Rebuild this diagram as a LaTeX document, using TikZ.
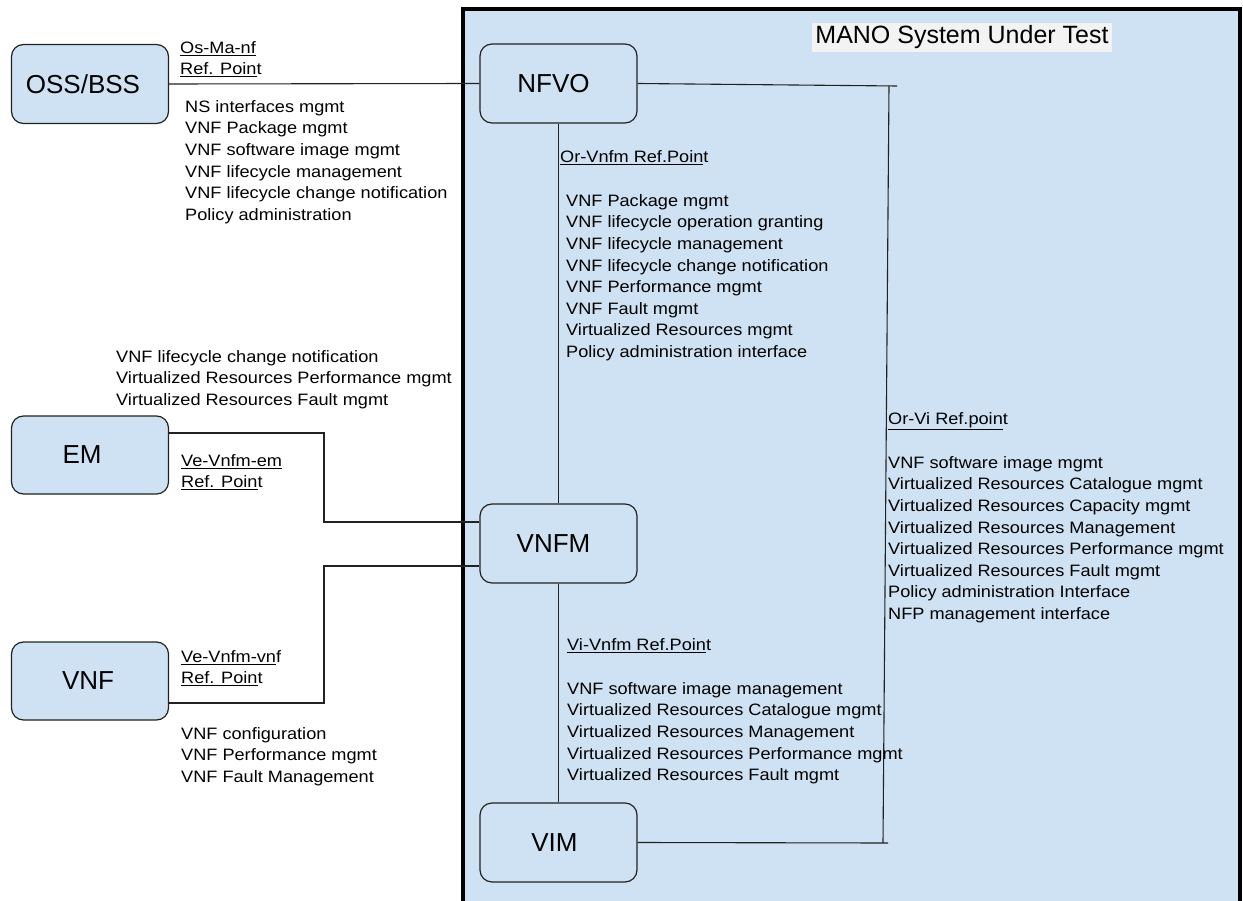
\documentclass[tikz,border=0pt]{standalone}
\usepackage{fontspec}
\setmainfont{Liberation Sans}
\newfontfamily\smallfont[FakeStretch=1.1]{Liberation Sans}
\definecolor{boxblue}{HTML}{CFE2F3}
\definecolor{titlegray}{HTML}{F3F3F3}
\definecolor{edge}{HTML}{222222}
\begin{document}
\begin{tikzpicture}[x=1pt,y=-1pt,
  entity/.style={draw=edge, fill=boxblue, rounded corners=12pt, minimum width=157pt,
    minimum height=79pt, line width=1.2pt, inner sep=0pt,
    font=\fontsize{26}{30}\selectfont},
  txt/.style={anchor=north west, inner sep=0pt, align=left,
    font=\smallfont\fontsize{16.5}{21.6}\selectfont},
  link/.style={line width=1.1pt, draw=edge}]
\useasboundingbox (0,0) rectangle (1243,901);
\clip (0,0) rectangle (1243,901);
\fill[white] (0,0) rectangle (1243,901);
% MANO system box
\draw[line width=4pt, draw=black, fill=boxblue] (463,9.5) rectangle (1240,915);
\node[fill=titlegray, minimum width=300pt, minimum height=29pt, inner sep=0pt,
  font=\fontsize{25}{29}\selectfont] (title) at (962,37.5) {MANO System Under Test};
% entities
\node[entity] (oss) at (90,84) {\hspace*{-14pt}OSS/BSS};
\node[entity, minimum height=78pt] (em) at (90,455) {\hspace*{-16pt}EM};
\node[entity, minimum height=78pt] (vnf) at (90,681) {\hspace*{-4pt}VNF};
\node[entity] (nfvo) at (558.5,83.5) {\hspace*{-10pt}NFVO};
\node[entity] (vnfm) at (558.5,543.5) {\hspace*{-10pt}VNFM};
\node[entity] (vim) at (558.5,842.5) {\hspace*{-8pt}VIM};
% free ends
\coordinate (emcorner) at (324,433);
\coordinate (vnfcorner) at (324,703);
\coordinate (orTop) at (889,86);
\coordinate (orTopEnd) at (897,86);
\coordinate (orBot) at (883,843);
\coordinate (orBotEnd) at (888,843);
% connectors
\draw[link] (oss.east) -- (nfvo.west);
\draw[link] (nfvo.south) -- (vnfm.north);
\draw[link] (vnfm.south) -- (vim.north);
\draw[link] ([yshift=22pt]em.east) -- (emcorner) |- ([yshift=21.5pt]vnfm.west);
\draw[link] ([yshift=-22pt]vnf.east) -- (vnfcorner) |- ([yshift=-22.5pt]vnfm.west);
\draw[link] (nfvo.east) -- (orTopEnd);
\draw[link] (orTop) -- (orBot);
\draw[link] (vim.east) -- (orBotEnd);
% labels
\node[txt] (osmalbl) at (180,38) {\strut\underline{Os-Ma-nf}\\\underline{Ref. Poin}t};
\node[txt] (osmalist) at (185,97) {\strut NS interfaces mgmt\\VNF Package mgmt\\VNF software image mgmt\\VNF lifecycle management\\VNF lifecycle change notification\\Policy administration};
\node[txt] (orvnfmlbl) at (560,147) {\strut\underline{Or-Vnfm Ref.Poin}t};
\node[txt] (orvnfmlist) at (566,191) {\strut VNF Package mgmt\\VNF lifecycle operation granting\\VNF lifecycle management\\VNF lifecycle change notification\\VNF Performance mgmt\\VNF Fault mgmt\\Virtualized Resources mgmt\\Policy administration interface};
\node[txt] (emlist) at (116,347) {\strut VNF lifecycle change notification\\Virtualized Resources Performance mgmt\\Virtualized Resources Fault mgmt};
\node[txt] (emlbl) at (181,451) {\strut\underline{Ve-Vnfm-em}\\\underline{Ref. Poin}t};
\node[txt] (vnflbl) at (181,647) {\strut\underline{Ve-Vnfm-vn}f\\\underline{Ref. Poin}t};
\node[txt] (vnflist) at (181,724) {\strut VNF configuration\\VNF Performance mgmt\\VNF Fault Management};
\node[txt] (vivnfmlbl) at (567,635) {\strut\underline{Vi-Vnfm Ref.Poin}t};
\node[txt] (vivnfmlist) at (567,679) {\strut VNF software image management\\Virtualized Resources Catalogue mgmt\\Virtualized Resources Management\\Virtualized Resources Performance mgmt\\Virtualized Resources Fault mgmt};
\node[txt] (orvilbl) at (888,409) {\strut\underline{Or-Vi Ref.poin}t};
\node[txt] (orvilist) at (888,453) {\strut VNF software image mgmt\\Virtualized Resources Catalogue mgmt\\Virtualized Resources Capacity mgmt\\Virtualized Resources Management\\Virtualized Resources Performance mgmt\\Virtualized Resources Fault mgmt\\Policy administration Interface\\NFP management interface};
\end{tikzpicture}
\end{document}
